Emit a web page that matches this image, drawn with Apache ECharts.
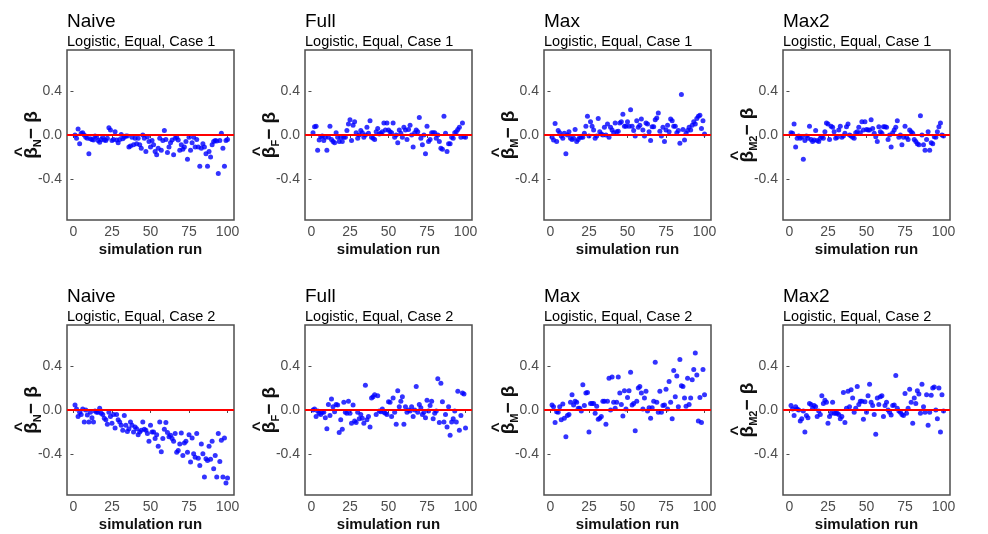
<!DOCTYPE html>
<html>
<head>
<meta charset="utf-8">
<script src="https://cdn.jsdelivr.net/npm/echarts@6/dist/echarts.min.js"></script>
<style>
html, body { margin: 0; padding: 0; background: #fff; }
#chart-container { width: 988px; height: 534px; }
</style>
</head>
<body>
<div id="chart-container"></div>
<script>
// simulation runs 1..100
const runs = Array.from({ length: 100 }, (_, i) => i + 1);

const methods = ['Naive', 'Full', 'Max', 'Max2'];
const methodSubs = ['N', 'F', 'M', 'M2'];
const caseLabels = ['Logistic, Equal, Case 1', 'Logistic, Equal, Case 2'];
const xTicks = [0, 25, 50, 75, 100];
const yTicks = [-0.4, 0, 0.4];

// estimate minus true beta
const naiveCase1 = [0.0, -0.03, 0.055, -0.08, 0.015, 0.02, 0.0, -0.02, -0.03, -0.17,
  -0.035, -0.04, -0.045, -0.01, -0.02, -0.05, -0.065, -0.04, -0.02, -0.045,
  -0.05, -0.03, 0.065, 0.045, -0.05, -0.04, 0.03, -0.045, -0.07, -0.04,
  0.005, -0.035, -0.02, -0.01, -0.01, -0.11, -0.10, -0.02, -0.09, -0.03,
  -0.08, -0.03, -0.09, -0.12, 0.0, -0.03, -0.15, -0.015, -0.06, -0.11,
  -0.05, -0.09, -0.15, -0.18, -0.12, -0.03, -0.14, -0.05, 0.04, -0.04,
  -0.16, -0.11, -0.07, -0.045, -0.18, -0.03, -0.02, -0.045, -0.14, -0.09,
  -0.13, -0.11, -0.06, -0.22, -0.02, -0.14, -0.07, -0.02, -0.11, -0.04,
  -0.11, -0.285, -0.12, -0.08, -0.11, -0.17, -0.285, -0.15, -0.2, -0.09,
  -0.06, -0.05, -0.055, -0.35, -0.05, 0.015, -0.12, -0.285, -0.05, -0.04];

const fullCase1 = [0.02, 0.075, 0.08, -0.14, -0.045, -0.015, -0.01, -0.05, -0.02, -0.14,
  -0.02, 0.08, -0.04, -0.06, -0.07, 0.02, -0.02, -0.06, -0.02, -0.06,
  -0.02, -0.02, 0.04, 0.1, 0.14, -0.05, 0.09, 0.12, 0.02, -0.03,
  0.0, 0.04, 0.02, -0.02, 0.0, 0.07, 0.015, 0.13, -0.02, -0.03,
  -0.04, 0.03, 0.06, 0.01, 0.015, 0.03, 0.11, 0.045, 0.11, 0.045,
  0.03, 0.02, 0.11, -0.02, 0.0, -0.07, 0.045, 0.015, -0.02, 0.07,
  0.045, -0.04, 0.05, 0.09, 0.0, -0.11, 0.02, 0.045, 0.03, 0.16,
  -0.03, -0.09, 0.0, -0.17, 0.08, -0.06, -0.04, 0.02, 0.02, 0.02,
  -0.03, 0.0, -0.06, -0.12, -0.13, 0.17, 0.015, -0.15, -0.08, -0.08,
  -0.02, -0.03, 0.02, 0.03, 0.05, 0.07, -0.02, 0.11, -0.015, -0.02];

const maxCase1 = [-0.02, -0.045, 0.105, -0.06, 0.04, 0.02, -0.01, -0.03, 0.015, -0.17,
  0.0, 0.03, -0.03, -0.04, -0.03, 0.05, -0.06, -0.04, -0.02, -0.02,
  -0.02, 0.015, 0.08, 0.17, -0.01, 0.12, 0.08, 0.045, -0.03, -0.01,
  0.15, 0.03, 0.01, 0.0, 0.07, 0.0, 0.1, -0.02, 0.07, 0.045,
  0.02, 0.11, 0.03, 0.035, 0.11, 0.12, 0.19, 0.08, 0.08, 0.12,
  0.08, 0.23, 0.08, 0.04, -0.01, 0.13, 0.07, 0.09, 0.145, 0.045,
  -0.01, 0.11, 0.1, 0.03, -0.05, 0.075, 0.075, 0.14, 0.155, 0.2,
  0.035, -0.01, 0.07, -0.06, 0.045, 0.09, 0.03, 0.145, 0.13, 0.08,
  0.08, 0.02, 0.04, -0.075, 0.37, 0.05, -0.045, 0.015, 0.04, 0.07,
  0.045, 0.09, 0.12, 0.1, 0.15, 0.17, 0.18, 0.06, 0.13, 0.01];

const max2Case1 = [0.02, 0.015, 0.1, -0.11, -0.03, -0.01, -0.03, -0.02, -0.22, -0.05,
  -0.01, -0.03, 0.08, -0.04, -0.06, -0.045, 0.04, -0.05, -0.06, -0.03,
  -0.015, -0.03, 0.03, 0.11, 0.1, -0.04, 0.08, 0.07, 0.03, -0.03,
  -0.02, 0.045, 0.08, -0.02, -0.01, 0.015, 0.075, 0.1, 0.0, -0.01,
  -0.02, -0.03, 0.02, 0.03, 0.07, 0.02, 0.12, 0.045, 0.12, 0.05,
  0.045, 0.045, 0.14, 0.06, 0.015, -0.015, -0.06, 0.075, 0.03, 0.015,
  0.075, 0.075, 0.07, -0.04, 0.0, -0.11, 0.02, 0.045, 0.07, 0.13,
  -0.02, 0.0, -0.09, -0.02, 0.08, -0.02, -0.04, 0.045, 0.03, 0.015,
  -0.04, -0.06, -0.08, -0.09, 0.175, 0.0, -0.09, -0.14, -0.04, 0.03,
  -0.14, -0.07, -0.08, -0.015, -0.02, 0.03, 0.075, 0.11, 0.0, -0.01];

const naiveCase2 = [0.045, 0.01, -0.06, -0.02, -0.04, 0.01, -0.11, 0.0, -0.045, -0.11,
  -0.02, -0.07, -0.11, -0.01, -0.02, -0.02, 0.015, -0.03, -0.04, -0.075,
  -0.09, -0.13, -0.02, -0.06, -0.12, -0.04, -0.165, -0.04, -0.09, -0.11,
  -0.14, -0.185, -0.05, -0.14, -0.195, -0.17, -0.11, -0.14, -0.2, -0.155,
  -0.17, -0.225, -0.2, -0.185, -0.11, -0.175, -0.185, -0.215, -0.285, -0.14,
  -0.2, -0.2, -0.26, -0.225, -0.33, -0.11, -0.38, -0.26, -0.175, -0.115,
  -0.205, -0.245, -0.23, -0.26, -0.285, -0.215, -0.385, -0.37, -0.31, -0.21,
  -0.415, -0.3, -0.285, -0.385, -0.225, -0.475, -0.255, -0.4, -0.43, -0.215,
  -0.44, -0.505, -0.31, -0.4, -0.61, -0.445, -0.46, -0.33, -0.45, -0.285,
  -0.535, -0.415, -0.61, -0.215, -0.47, -0.275, -0.61, -0.255, -0.665, -0.62];

const fullCase2 = [0.0, 0.01, -0.06, -0.01, -0.03, -0.04, -0.02, -0.02, -0.07, -0.17,
  0.05, -0.05, 0.1, 0.03, -0.015, 0.05, 0.045, -0.205, -0.09, -0.175,
  0.07, -0.02, -0.03, 0.08, -0.03, -0.12, 0.045, -0.1, -0.115, -0.02,
  -0.08, -0.04, -0.075, -0.12, 0.225, -0.09, -0.06, -0.155, 0.11, 0.12,
  0.14, -0.04, 0.13, -0.01, -0.015, 0.01, -0.02, -0.03, -0.04, 0.075,
  0.07, -0.06, 0.11, -0.02, -0.13, 0.175, 0.03, 0.08, 0.12, -0.13,
  0.03, -0.02, 0.0, -0.01, 0.03, -0.06, 0.0, 0.215, -0.02, 0.05,
  0.02, -0.04, -0.02, -0.07, 0.09, -0.01, 0.04, 0.08, -0.08, -0.03,
  -0.01, 0.285, -0.115, 0.245, 0.075, -0.11, -0.04, -0.155, 0.03, -0.23,
  -0.11, -0.08, -0.01, -0.11, 0.17, -0.185, -0.05, 0.155, 0.145, -0.165];

const maxCase2 = [0.045, 0.03, -0.115, -0.015, -0.02, 0.03, -0.09, 0.055, -0.075, -0.245,
  -0.05, -0.04, 0.07, 0.14, 0.045, 0.08, 0.07, 0.015, 0.015, -0.01,
  0.23, 0.04, 0.155, 0.16, -0.2, 0.06, 0.06, 0.06, -0.03, 0.035,
  -0.085, -0.075, -0.06, 0.08, 0.08, -0.13, 0.08, 0.29, 0.0, 0.3,
  0.07, 0.015, 0.07, 0.3, 0.155, 0.05, -0.055, 0.175, 0.01, 0.115,
  0.175, 0.345, 0.045, 0.06, -0.19, 0.08, 0.2, 0.215, 0.155, 0.01,
  0.11, 0.17, -0.01, 0.02, -0.075, 0.02, 0.08, 0.435, 0.07, -0.02,
  0.17, -0.02, 0.04, 0.045, 0.19, 0.01, 0.26, 0.07, -0.08, 0.36,
  0.12, 0.31, 0.03, 0.46, 0.22, 0.215, 0.11, 0.035, 0.29, 0.05,
  0.11, 0.275, 0.37, 0.52, 0.32, -0.1, 0.115, -0.115, 0.37, 0.14];

const max2Case2 = [0.04, 0.01, -0.05, 0.03, 0.01, 0.0, -0.1, -0.08, -0.01, -0.2,
  -0.05, -0.07, 0.06, 0.05, 0.015, 0.04, 0.03, -0.06, -0.01, -0.04,
  0.13, 0.06, 0.09, 0.07, -0.12, -0.06, -0.03, 0.07, -0.03, -0.03,
  -0.03, -0.04, -0.08, -0.06, 0.16, -0.115, 0.015, 0.17, 0.03, 0.185,
  0.11, -0.02, 0.015, 0.215, 0.05, 0.08, 0.08, -0.085, 0.075, -0.02,
  0.13, 0.235, 0.07, 0.04, -0.04, -0.22, 0.11, 0.05, 0.12, 0.13,
  -0.06, 0.04, 0.07, 0.0, -0.02, -0.045, 0.04, 0.045, 0.315, 0.015,
  -0.01, -0.02, -0.04, -0.05, 0.15, -0.03, 0.015, 0.19, 0.07, -0.12,
  0.11, 0.06, 0.175, 0.145, -0.03, 0.235, 0.03, -0.02, 0.14, -0.14,
  -0.02, 0.135, 0.2, 0.21, 0.0, -0.08, 0.2, -0.2, 0.14, -0.01];

const panelData = [naiveCase1, fullCase1, maxCase1, max2Case1,
                   naiveCase2, fullCase2, maxCase2, max2Case2];

const font = 'Liberation Sans, Arial, sans-serif';
const lefts = [67, 305, 544, 783];
const tops = [50, 325];
const width = 167, height = 170;

const myChart = echarts.init(document.getElementById('chart-container'));

const titles = [], grids = [], xAxes = [], yAxes = [], series = [];

for (let r = 0; r < 2; r++) {
    for (let c = 0; c < 4; c++) {
        const i = r * 4 + c;
        titles.push({
            text: methods[c],
            subtext: caseLabels[r],
            left: lefts[c],
            top: tops[r] - 38,
            padding: 0,
            itemGap: 3,
            textStyle: { fontFamily: font, fontSize: 19, fontWeight: 'normal', color: '#000' },
            subtextStyle: { fontFamily: font, fontSize: 14.5, color: '#000' }
        });
        grids.push({
            left: lefts[c], top: tops[r], width: width, height: height,
            show: true, borderColor: '#4d4d4d', borderWidth: 1.5, backgroundColor: '#fff'
        });
        xAxes.push({
            type: 'value', gridIndex: i, min: -4.2, max: 104.2,
            axisLine: { show: false },
            splitLine: { show: false },
            axisTick: { customValues: xTicks, length: 3, lineStyle: { color: '#4d4d4d' } },
            axisLabel: { customValues: xTicks, color: '#4d4d4d', fontSize: 14, fontFamily: font, margin: 5 },
            name: 'simulation run', nameLocation: 'middle', nameGap: 22,
            nameTextStyle: { fontFamily: font, fontSize: 15, fontWeight: 'bold', color: '#111' }
        });
        yAxes.push({
            type: 'value', gridIndex: i, min: -0.775, max: 0.775,
            axisLine: { show: false },
            splitLine: { show: false },
            axisTick: { customValues: yTicks, length: 3, lineStyle: { color: '#4d4d4d' } },
            axisLabel: { customValues: yTicks, color: '#4d4d4d', fontSize: 14, fontFamily: font, margin: 5,
                formatter: v => v.toFixed(1) },
            name: `{h|^}\n{b|β}{s|${methodSubs[c]}}{b|− β}`,
            nameLocation: 'middle', nameRotate: 90, nameGap: 24, nameMoveOverlap: false,
            nameTextStyle: {
                fontFamily: font, color: '#111',
                rich: {
                    h: { fontFamily: font, fontSize: 17, fontWeight: 'bold', color: '#111', lineHeight: 8,
                         verticalAlign: 'top', align: 'left', padding: [0, 0, 0, 2] },
                    b: { fontFamily: font, fontSize: 19, fontWeight: 'bold', color: '#111', lineHeight: 22 },
                    s: { fontFamily: font, fontSize: 11, fontWeight: 'bold', color: '#111', verticalAlign: 'bottom', lineHeight: 13 }
                }
            }
        });
        series.push({
            type: 'scatter', xAxisIndex: i, yAxisIndex: i,
            symbolSize: 5,
            itemStyle: { color: '#0000ff' },
            data: runs.map((x, k) => [x, panelData[i][k]]),
            markLine: {
                silent: true, symbol: ['none', 'none'],
                label: { show: false },
                lineStyle: { color: '#ff0000', width: 2, type: 'solid' },
                data: [{ yAxis: 0 }]
            }
        });
    }
}

const option = {
    animation: false,
    backgroundColor: '#fff',
    title: titles,
    grid: grids,
    xAxis: xAxes,
    yAxis: yAxes,
    series: series
};

option && myChart.setOption(option);
</script>
</body>
</html>
